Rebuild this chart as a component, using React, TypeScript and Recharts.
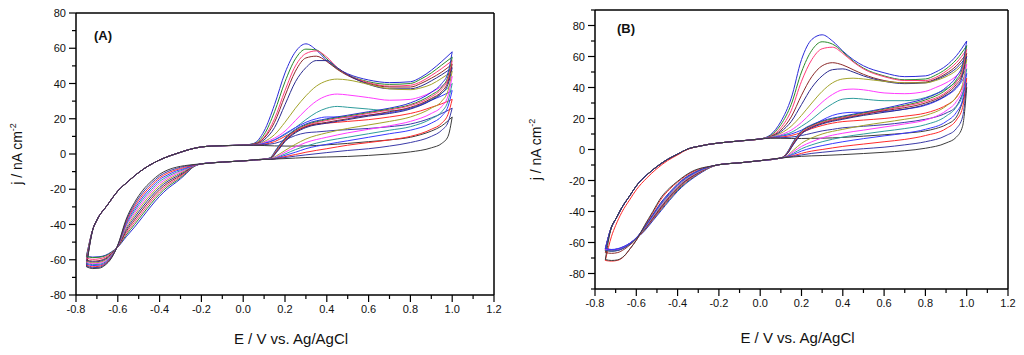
import React from "react";
import { LineChart, Line, XAxis, YAxis, ReferenceLine, Label } from "recharts";

const FONT = "Arial, 'Liberation Sans', Helvetica, sans-serif";

const COLORS = ["#2b2bd9", "#2a8a2a", "#ff3b7a", "#8b2a2a", "#2b2b8f", "#a3a32a", "#ff3bff", "#2e9c9c", "#3a3aff", "#ff2a2a", "#3a3aa8", "#3c3c3c"];

const X_TICKS = [-0.8, -0.7, -0.6, -0.5, -0.4, -0.3, -0.2, -0.1, 0, 0.1, 0.2, 0.3, 0.4, 0.5, 0.6, 0.7, 0.8, 0.9, 1.0, 1.1, 1.2];
const Y_TICKS_A = [-80, -70, -60, -50, -40, -30, -20, -10, 0, 10, 20, 30, 40, 50, 60, 70, 80];
const Y_TICKS_B = [-90, -80, -70, -60, -50, -40, -30, -20, -10, 0, 10, 20, 30, 40, 50, 60, 70, 80, 90];

// potential grids
const FWD_L_E_A = [-0.72, -0.7, -0.65, -0.6, -0.55, -0.5, -0.45, -0.4, -0.35, -0.3, -0.25, -0.2, -0.15, -0.1, 0];
const FWD_L_J_A = [-43, -37.5, -29, -21, -15.5, -10.5, -6.5, -3.4, -1, 1, 2.8, 4, 4.5, 4.7, 5];
const FWD_L_E_B = [-0.72, -0.7, -0.67, -0.63, -0.6, -0.55, -0.5, -0.45, -0.4, -0.35, -0.3, -0.25, -0.2, -0.1, 0];
const FWD_L_J_B = [-50, -45, -37.5, -29.5, -23.5, -16.5, -11, -6.5, -3, 0.4, 2, 3.3, 4.2, 5.5, 6.8];
const FWD_L_J_B_RED = [-56, -49, -40.5, -32, -26, -18.5, -12.3, -7.3, -3.5, 0.2, 2, 3.3, 4.2, 5.5, 6.8];
const FWD_R_E = [0.05, 0.1, 0.15, 0.2, 0.25, 0.3, 0.35, 0.4, 0.45, 0.5, 0.6, 0.7, 0.8, 0.85, 0.9, 0.95];
const RET_L_E = [-0.75, -0.72, -0.69, -0.66, -0.63, -0.6, -0.56, -0.52, -0.48, -0.44, -0.4, -0.36, -0.32, -0.28, -0.24];
const RET_MID_E = [-0.2, -0.1, 0];
const RET_R_E = [0.1, 0.13, 0.16, 0.2, 0.25, 0.3, 0.4, 0.5, 0.6, 0.7, 0.8, 0.9, 0.95, 0.98, 1.0];
const RET_MID_J_A = [-5.6, -4.6, -3.9];
const RET_MID_J_B = [-9.8, -8.6, -7.2];

// Panel A
const A_FWD_R = [
  [6, 13, 28, 46, 58, 62.5, 59, 53, 48.5, 45.5, 42, 40.5, 41, 43.5, 47.5, 52.5],
  [5.8, 11, 24, 41, 54, 59.5, 59, 54, 48.5, 45, 41, 39.5, 40, 42.5, 46, 50.5],
  [5.6, 9.5, 20, 36, 50, 57, 58.5, 55, 49, 45, 40.5, 38.5, 39, 41, 44.5, 48.5],
  [5.5, 9, 18, 33, 47, 54.5, 55.5, 52.5, 48, 44.5, 40, 38, 38, 40, 43, 46.5],
  [5.3, 8, 15, 28, 41, 49, 53, 53, 49, 45, 39.5, 37, 37, 38.5, 41.5, 45],
  [5.2, 7, 11, 18, 26, 33, 38.5, 41.5, 42.5, 42, 39.5, 37, 36.5, 37.5, 39.5, 43],
  [5.1, 6.5, 9, 13, 19, 25, 30, 33, 34, 33.5, 32, 30.5, 31, 32.5, 35, 38.5],
  [5, 6, 8, 11, 15, 19.5, 23.5, 26, 27, 26.5, 25.5, 24.5, 26, 28, 31, 34.5],
  [5, 6, 8, 11.5, 15, 18, 20, 21, 21, 21, 22, 23.5, 26, 28, 30.5, 33],
  [5, 5.5, 7, 10, 13, 15.5, 17, 17.5, 18, 18.5, 19.5, 21, 23, 24.5, 26.5, 28.5],
  [5, 5.3, 6, 8, 10.5, 12, 12.5, 13, 13.5, 13.8, 14.5, 15.5, 17, 18.5, 20.5, 23],
  [5, 4.8, 4.6, 4.5, 4.5, 4.6, 4.8, 5.2, 5.6, 6, 7, 8, 9.5, 11, 13, 16],
];
const A_RET_L = [
  [-58, -58.5, -58.3, -57.5, -55.5, -52.8, -47, -41.5, -35.5, -29.5, -24, -19.5, -16, -12, -7.5],
  [-58, -58.8, -58.6, -57.8, -55.8, -52.7, -46, -40, -34, -28, -22.7, -18.4, -15.2, -11.5, -7.4],
  [-59, -59.8, -59.5, -58.5, -56.2, -52.6, -45, -38.7, -32.6, -26.7, -21.5, -17.4, -14.4, -11, -7.2],
  [-60, -60.8, -60.5, -59.3, -56.6, -52.5, -44, -37.4, -31.2, -25.4, -20.3, -16.4, -13.6, -10.5, -7.1],
  [-60.5, -61.3, -61, -59.8, -56.9, -52.4, -43, -36.1, -29.8, -24.1, -19.1, -15.4, -12.8, -10, -7],
  [-61, -61.8, -61.5, -60.3, -57.2, -52.3, -42, -34.8, -28.4, -22.8, -17.9, -14.5, -12, -9.5, -6.9],
  [-61.5, -62.3, -62, -60.8, -57.5, -52.2, -41, -33.5, -27, -21.5, -16.7, -13.6, -11.2, -9, -6.8],
  [-62, -62.8, -62.6, -61.3, -57.8, -52.1, -40.2, -32.3, -25.7, -20.3, -15.6, -12.7, -10.4, -8.6, -6.7],
  [-62.5, -63.3, -63.1, -61.8, -58.1, -52, -39.4, -31.1, -24.4, -19.1, -14.5, -11.8, -9.6, -8.2, -6.6],
  [-63, -64, -63.7, -62.2, -58.4, -51.9, -38.6, -29.9, -23.1, -17.9, -13.5, -10.8, -8.9, -7.6, -6.4],
  [-63.5, -64.5, -64.3, -62.6, -58.7, -51.8, -37.8, -28.7, -21.8, -16.7, -12.5, -9.9, -8.2, -7, -6.2],
  [-64, -65, -64.8, -63, -59, -51.7, -37, -27.5, -20.5, -15.5, -11.5, -9, -7.5, -6.6, -6],
];
const A_RET_R = [
  [-3, -2, 3, 9, 14, 17, 20, 22, 24, 26, 29, 35, 40, 46, 58],
  [-3, -2.2, 2.5, 8.5, 13.5, 16.5, 19.5, 21.5, 23.5, 25.5, 28, 33.5, 38, 44, 55],
  [-3, -2.4, 2, 8, 13, 16, 19, 21, 23, 25, 27.5, 32.5, 37, 42.5, 53],
  [-3, -2.5, 1.5, 7.5, 12.5, 15.5, 18, 20, 22, 24, 26.5, 31.5, 35.5, 41, 51],
  [-3, -2.6, 1, 7, 12, 15, 17.5, 19.5, 21.5, 23, 25.5, 30.5, 34.5, 39.5, 49],
  [-3, -2.7, -1, 2, 5.5, 8.5, 12, 14.5, 16.5, 18.5, 21, 26, 30, 36, 47],
  [-3, -2.8, -1.6, 1, 4, 6.5, 9.5, 12, 14, 16, 18.5, 23, 27, 33, 44],
  [-3, -2.9, -2, 0, 2.5, 4.5, 7.5, 9.5, 11.5, 13.5, 15.5, 20, 24, 30, 40],
  [-3, -3, -2.3, -0.8, 1, 3, 5.5, 7.5, 9.5, 11.5, 13.5, 17.5, 21.5, 27, 36],
  [-3, -3, -2.5, -1.5, -0.3, 1, 3, 5, 6.5, 8, 10, 14, 17.5, 22.5, 31],
  [-3, -3, -2.7, -2, -1.2, -0.5, 0.8, 2, 3, 4.5, 6.5, 10, 13.5, 18, 26],
  [-3, -3, -2.8, -2.6, -2.3, -2, -1.7, -1.4, -0.8, 0, 1.2, 3.5, 6, 10, 21],
];

// Panel B
const B_FWD_L = [FWD_L_J_B, FWD_L_J_B, FWD_L_J_B, FWD_L_J_B, FWD_L_J_B, FWD_L_J_B, FWD_L_J_B, FWD_L_J_B, FWD_L_J_B, FWD_L_J_B_RED, FWD_L_J_B, FWD_L_J_B];
const B_FWD_R = [
  [9.5, 18, 33, 58, 71, 74, 70, 63.5, 58, 54, 49.5, 47, 47.5, 50, 54, 60.5],
  [9, 16, 29, 50, 64, 69.5, 68, 63, 57, 52.5, 47.5, 45, 45.5, 48, 52, 58],
  [8.5, 14, 25, 44, 58, 65, 66, 62, 56.5, 52, 47, 44.5, 44.5, 46.5, 50.5, 56],
  [8.3, 12.5, 21, 35, 47, 54, 56, 54.5, 51.5, 48.5, 44.5, 43, 43.5, 45.5, 49, 54],
  [8.1, 11.5, 18, 29, 40, 47.5, 51.5, 52, 50, 47.5, 44, 42.5, 43, 45, 48, 52.5],
  [8, 10.5, 15, 22, 30, 37.5, 43, 45.5, 46, 45.5, 44, 43, 43, 44.5, 47, 51],
  [7.8, 9.5, 12.5, 17.5, 24, 30.5, 35.5, 38.5, 39, 38.5, 36.5, 36, 37.5, 40, 43, 47.5],
  [7.7, 9, 11, 15, 19.5, 25, 29.5, 32.5, 33, 32.5, 31.5, 31.5, 33.5, 36, 39, 44],
  [7.6, 8.5, 10, 12.5, 15.5, 19, 22, 23.5, 24, 24, 24.5, 26, 28.5, 31, 34.5, 39.5],
  [7.5, 8, 9, 11, 13.5, 15.5, 17, 18, 18.5, 19, 20, 21.5, 23.5, 25.5, 28.5, 33.5],
  [7.4, 7.6, 8, 9, 10.5, 12, 13, 14, 14.5, 15, 16, 17.5, 19.5, 21, 23.5, 28],
  [7.3, 7.2, 7.1, 7.1, 7.2, 7.3, 7.5, 7.8, 8.2, 8.6, 9.5, 10.5, 12, 13.5, 16, 21],
];
const B_RET_L = [
  [-64, -64.5, -64, -62.5, -60.5, -57.5, -52.5, -46, -39.5, -33, -27, -22, -18, -14.5, -11.5],
  [-65, -65.3, -64.8, -63.2, -60.8, -57.5, -52, -45.3, -38.7, -32.2, -26.3, -21.4, -17.5, -14.2, -11.4],
  [-64.5, -65, -64.6, -63, -60.5, -57.3, -51.7, -45, -38.2, -31.6, -25.7, -20.8, -17.1, -14, -11.3],
  [-66.5, -67, -66.5, -64.5, -61.5, -57.8, -51.5, -44.5, -37.6, -31, -25.2, -20.3, -16.7, -13.7, -11.2],
  [-64, -64.7, -64.3, -62.8, -60.4, -57.2, -51.2, -44, -37, -30.5, -24.7, -19.9, -16.4, -13.5, -11.1],
  [-65, -65.5, -65, -63.4, -60.7, -57.3, -51, -43.6, -36.4, -30, -24.2, -19.5, -16.1, -13.3, -11.1],
  [-64.5, -65, -64.6, -63, -60.5, -57.1, -50.7, -43.2, -35.8, -29.5, -23.7, -19.1, -15.8, -13.1, -11],
  [-65, -65.5, -65.1, -63.5, -60.8, -57.2, -50.5, -42.8, -35.2, -29, -23.2, -18.7, -15.5, -12.9, -11],
  [-64, -64.6, -64.2, -62.7, -60.3, -56.9, -50.2, -42.4, -34.6, -28.4, -22.7, -18.3, -15.2, -12.7, -10.9],
  [-71.6, -72, -71.5, -69, -64, -58.5, -49.5, -40.8, -32, -25.8, -21, -17, -14, -12, -10.9],
  [-65, -65.6, -65.2, -63.6, -60.9, -57.2, -50, -42, -34, -27.8, -22.2, -17.9, -14.8, -12.5, -10.9],
  [-71, -71.6, -71.2, -68.8, -64, -58.6, -49, -40, -31, -25, -20.5, -16.5, -13.5, -11.8, -10.8],
];
const B_RET_R = [
  [-5.5, -2, 5, 12, 16, 18.5, 21.5, 24, 26.5, 29.5, 33, 40, 47, 55, 70],
  [-5.5, -2.3, 4.5, 11.5, 15.5, 18, 21, 23.5, 26, 28.5, 32, 38.5, 45, 53, 67],
  [-5.5, -2.6, 4, 11, 15, 17.5, 20.5, 23, 25.5, 28, 31, 37, 43.5, 51, 64.5],
  [-5.5, -2.8, 3.5, 10.5, 14.5, 17, 20, 22.5, 25, 27, 30, 36, 42, 49, 62],
  [-5.5, -3, 3, 10, 14, 16.5, 19.5, 22, 24, 26, 29, 35, 40.5, 47.5, 60],
  [-5.5, -4, -0.5, 4, 7.5, 10, 13, 15.5, 17.5, 19.5, 22, 28, 34, 42, 58],
  [-5.5, -4.3, -1.5, 2, 5, 7.5, 10.5, 12.5, 14.5, 16.5, 19, 25, 31, 39, 55],
  [-5.5, -4.5, -2.5, 0.5, 3, 5, 8, 10, 11.8, 13.5, 16, 21.5, 27.5, 35.5, 52],
  [-5.5, -4.7, -3.2, -1, 1, 2.5, 5, 7, 8.8, 10.5, 13, 18, 24, 32, 49],
  [-5.5, -4.9, -4, -2.5, -1, 0, 2, 3.5, 5, 6.5, 9, 13.5, 19, 27, 46],
  [-5.5, -5, -4.4, -3.5, -2.5, -1.8, -0.5, 0.5, 1.5, 3, 5, 9, 13.5, 21, 43],
  [-5.5, -5.1, -4.8, -4.4, -4.1, -3.9, -3.3, -2.6, -1.8, -0.8, 0.8, 4.2, 8, 15, 40],
];

type Pt = { e: number; j: number };
type Loop = { fwd: Pt[]; ret: Pt[]; color: string };

const zip = (es: number[], js: number[]): Pt[] => es.map((e, i) => ({ e, j: js[i] }));

function buildLoops(
  fwdLE: number[],
  fwdLJ: number[][],
  fwdR: number[][],
  retL: number[][],
  retMid: number[],
  retR: number[][]
): Loop[] {
  return fwdR.map((fr, i) => {
    const rl = retL[i];
    const rr = retR[i];
    const fwd: Pt[] = [
      { e: RET_L_E[0], j: rl[0] },
      ...zip(fwdLE, fwdLJ[i]),
      ...zip(FWD_R_E, fr),
      { e: RET_R_E[RET_R_E.length - 1], j: rr[rr.length - 1] },
    ];
    const ret: Pt[] = [...zip(RET_L_E, rl), ...zip(RET_MID_E, retMid), ...zip(RET_R_E, rr)];
    return { fwd, ret, color: COLORS[i] };
  });
}

const LOOPS_A = buildLoops(FWD_L_E_A, A_FWD_R.map(() => FWD_L_J_A), A_FWD_R, A_RET_L, RET_MID_J_A, A_RET_R);
const LOOPS_B = buildLoops(FWD_L_E_B, B_FWD_L, B_FWD_R, B_RET_L, RET_MID_J_B, B_RET_R);

function XTick(props: any) {
  const { x, y, payload } = props;
  const v = payload.value as number;
  const major = Math.round(v * 10) % 2 === 0;
  return (
    <g>
      <line x1={x} y1={y} x2={x} y2={y + (major ? 7 : 4)} stroke="#000" strokeWidth={1.2} />
      {major && (
        <text x={x} y={y + 18} textAnchor="middle" fontSize={11} fontFamily={FONT} fill="#111">
          {v.toFixed(1)}
        </text>
      )}
    </g>
  );
}

function YTick(props: any) {
  const { x, y, payload } = props;
  const v = payload.value as number;
  const major = v % 20 === 0;
  return (
    <g>
      <line x1={x - (major ? 7 : 4)} y1={y} x2={x} y2={y} stroke="#000" strokeWidth={1.2} />
      {major && (
        <text x={x - 10} y={y + 4} textAnchor="end" fontSize={11} fontFamily={FONT} fill="#111">
          {v}
        </text>
      )}
    </g>
  );
}

type PanelProps = {
  width: number;
  height: number;
  margin: { top: number; right: number; left: number; bottom: number };
  yDomain: [number, number];
  yTicks: number[];
  loops: Loop[];
  tag: string;
  tagDx: number;
  tagDy: number;
  xTitleDx: number;
  xTitleDy: number;
};

function Panel(p: PanelProps) {
  const yLabel = (props: any) => {
    const vb = props.viewBox || {};
    const left = vb.x + vb.width;
    const cy = vb.y + vb.height / 2;
    const tx = left - 54;
    return (
      <g>
        <text
          transform={`rotate(-90 ${tx} ${cy})`}
          x={tx}
          y={cy}
          textAnchor="middle"
          fontSize={14}
          fontFamily={FONT}
          fill="#111"
        >
          j / nA cm<tspan dy={-6} fontSize={9}>-2</tspan>
        </text>
        <text x={left + p.tagDx} y={vb.y + p.tagDy} fontSize={13} fontWeight="bold" fontFamily={FONT} fill="#111">
          ({p.tag})
        </text>
      </g>
    );
  };
  const xLabel = (props: any) => {
    const vb = props.viewBox || {};
    return (
      <text
        x={vb.x + vb.width / 2 + p.xTitleDx}
        y={vb.y + p.xTitleDy}
        textAnchor="middle"
        fontSize={15}
        fontFamily={FONT}
        fill="#111"
      >
        E / V vs. Ag/AgCl
      </text>
    );
  };
  return (
    <LineChart width={p.width} height={p.height} margin={p.margin}>
      <XAxis
        dataKey="e"
        type="number"
        domain={[-0.8, 1.2]}
        ticks={X_TICKS}
        interval={0}
        tick={(tp: any) => <XTick {...tp} />}
        tickLine={false}
        tickSize={0}
        tickMargin={0}
        axisLine={{ stroke: "#000", strokeWidth: 1.5 }}
        height={30}
        allowDataOverflow
      >
        <Label content={xLabel} />
      </XAxis>
      <YAxis
        type="number"
        domain={p.yDomain}
        ticks={p.yTicks}
        interval={0}
        tick={(tp: any) => <YTick {...tp} />}
        tickLine={false}
        tickSize={0}
        tickMargin={0}
        axisLine={{ stroke: "#000", strokeWidth: 1.5 }}
        width={60}
        allowDataOverflow
      >
        <Label content={yLabel} />
      </YAxis>
      <ReferenceLine y={p.yDomain[1]} stroke="#000" strokeWidth={1.5} />
      <ReferenceLine x={1.2} stroke="#000" strokeWidth={1.5} />
      {p.loops.map((l, i) => (
        <Line
          key={"f" + i}
          data={l.fwd}
          dataKey="j"
          type="monotone"
          stroke={l.color}
          strokeWidth={1}
          dot={false}
          activeDot={false}
          isAnimationActive={false}
        />
      ))}
      {p.loops.map((l, i) => (
        <Line
          key={"r" + i}
          data={l.ret}
          dataKey="j"
          type="monotone"
          stroke={l.color}
          strokeWidth={1}
          dot={false}
          activeDot={false}
          isAnimationActive={false}
        />
      ))}
    </LineChart>
  );
}

export default function App() {
  return (
    <div
      style={{
        position: "absolute",
        left: 0,
        top: 0,
        width: 1024,
        height: 355,
        background: "#fff",
        display: "flex",
        flexDirection: "row",
      }}
    >
      <Panel
        width={512}
        height={355}
        margin={{ top: 13, right: 18, left: 16, bottom: 30 }}
        yDomain={[-80, 80]}
        yTicks={Y_TICKS_A}
        loops={LOOPS_A}
        tag="A"
        tagDx={18}
        tagDy={27}
        xTitleDx={6}
        xTitleDy={49}
      />
      <Panel
        width={512}
        height={355}
        margin={{ top: 10, right: 16, left: 23, bottom: 36 }}
        yDomain={[-90, 90]}
        yTicks={Y_TICKS_B}
        loops={LOOPS_B}
        tag="B"
        tagDx={22}
        tagDy={23}
        xTitleDx={-4}
        xTitleDy={54}
      />
    </div>
  );
}
